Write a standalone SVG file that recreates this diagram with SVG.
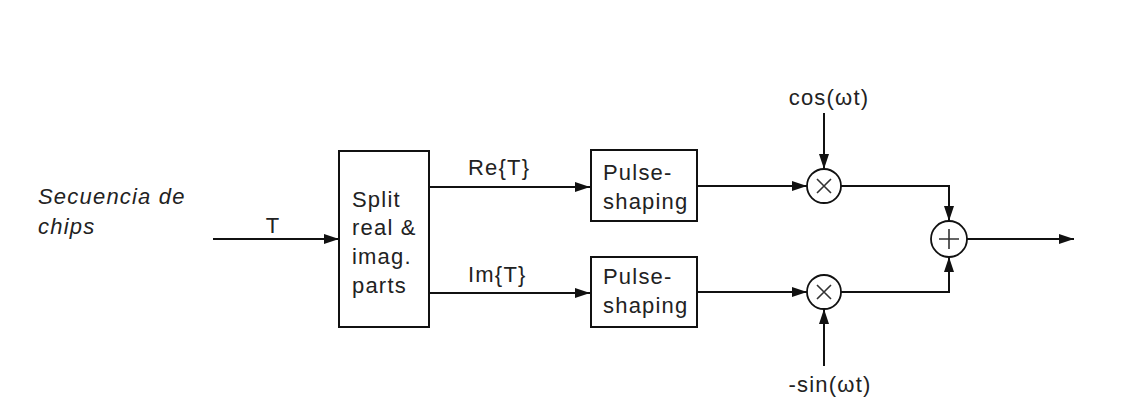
<svg xmlns="http://www.w3.org/2000/svg" width="1139" height="405" viewBox="0 0 1139 405">
<defs>
<marker id="arr" markerUnits="userSpaceOnUse" markerWidth="15" markerHeight="10" refX="15" refY="5" orient="auto">
<path d="M0,0 L15,5 L0,10 z" fill="#111"/>
</marker>
<style>
text{font-family:"Liberation Sans",Arial,sans-serif;font-size:22px;letter-spacing:1.2px;fill:#222}
.box{fill:#fff;stroke:#111;stroke-width:2}
.ln{fill:none;stroke:#111;stroke-width:2}
.op{fill:#fff;stroke:#111;stroke-width:1.8}
.sym{stroke:#333;stroke-width:1.6}
</style>
</defs>
<rect width="1139" height="405" fill="#fff"/>
<g id="input-label">
<text x="38" y="204" font-style="italic">Secuencia de</text>
<text x="38" y="234" font-style="italic">chips</text>
</g>
<g id="connectors">
<line class="ln" x1="213" y1="239" x2="339" y2="239" marker-end="url(#arr)"/>
<line class="ln" x1="429" y1="187" x2="590" y2="187" marker-end="url(#arr)"/>
<line class="ln" x1="429" y1="293" x2="590" y2="293" marker-end="url(#arr)"/>
<line class="ln" x1="697" y1="186" x2="807" y2="186" marker-end="url(#arr)"/>
<line class="ln" x1="697" y1="292" x2="807" y2="292" marker-end="url(#arr)"/>
<line class="ln" x1="824" y1="113" x2="824" y2="169" marker-end="url(#arr)"/>
<line class="ln" x1="824" y1="366" x2="824" y2="309" marker-end="url(#arr)"/>
<polyline class="ln" points="841,186 949,186 949,221" marker-end="url(#arr)"/>
<polyline class="ln" points="841,292 949,292 949,257" marker-end="url(#arr)"/>
<line class="ln" x1="966" y1="239" x2="1074" y2="239" marker-end="url(#arr)"/>
<text x="273" y="233" text-anchor="middle">T</text>
<text x="468" y="175">Re{T}</text>
<text x="468" y="282">Im{T}</text>
<text x="829" y="105" text-anchor="middle">cos(ωt)</text>
<text x="830" y="392" text-anchor="middle">-sin(ωt)</text>
</g>
<g id="split">
<rect class="box" x="339" y="151" width="90" height="176"/>
<text x="352" y="207">Split</text>
<text x="352" y="235">real &amp;</text>
<text x="352" y="264">imag.</text>
<text x="352" y="293">parts</text>
</g>
<g id="pulse-re">
<rect class="box" x="591" y="150" width="106" height="71"/>
<text x="603" y="180">Pulse-</text>
<text x="603" y="209">shaping</text>
</g>
<g id="pulse-im">
<rect class="box" x="591" y="257" width="106" height="70"/>
<text x="603" y="284">Pulse-</text>
<text x="603" y="313">shaping</text>
</g>
<g id="mult-cos">
<circle class="op" cx="824" cy="186" r="17"/>
<path class="sym" d="M817,179 L831,193 M831,179 L817,193"/>
</g>
<g id="mult-sin">
<circle class="op" cx="824" cy="292" r="17"/>
<path class="sym" d="M817,285 L831,299 M831,285 L817,299"/>
</g>
<g id="sum">
<circle class="op" cx="949" cy="239" r="18"/>
<path class="sym" d="M939,239 L959,239 M949,229 L949,249"/>
</g>
</svg>
